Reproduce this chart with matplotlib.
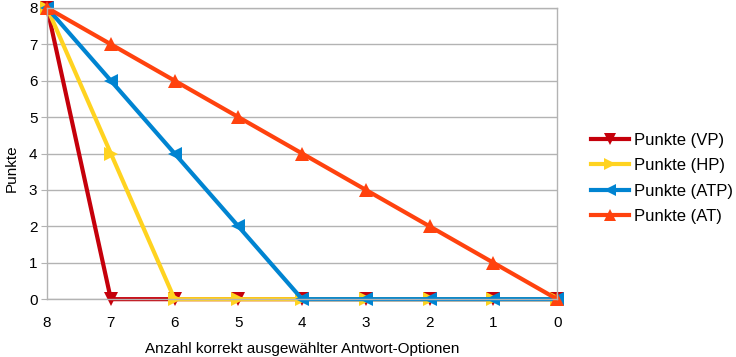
import matplotlib
matplotlib.use("Agg")
import matplotlib.pyplot as plt

plt.rcParams['font.family'] = ['Liberation Sans', 'DejaVu Sans']

# data
x_labels = ['8', '7', '6', '5', '4', '3', '2', '1', '0']
vp = [8, 0, 0, 0, 0, 0, 0, 0, 0]
hp = [8, 4, 0, 0, 0, 0, 0, 0, 0]
atp = [8, 6, 4, 2, 0, 0, 0, 0, 0]
at = [8, 7, 6, 5, 4, 3, 2, 1, 0]

series = [
    ('Punkte (VP)', vp, '#C5000B', 'v'),
    ('Punkte (HP)', hp, '#FFD320', '>'),
    ('Punkte (ATP)', atp, '#0084D1', '<'),
    ('Punkte (AT)', at, '#FF420E', '^'),
]

fig = plt.figure(figsize=(7.36, 3.57), dpi=100)
ax = fig.add_axes([0.064, 0.162, 0.693, 0.816])

pos = list(range(len(x_labels)))
handles = []
for name, vals, col, mk in series:
    h, = ax.plot(pos, vals, color=col, lw=3, marker=mk, markersize=10,
                 markeredgewidth=0, clip_on=False, label=name)
    handles.append(h)

ax.set_xlim(0, 8)
ax.set_ylim(0, 8)
ax.set_xticks(pos)
ax.set_xticklabels(x_labels)
ax.set_yticks(range(0, 9))
ax.yaxis.grid(True, color='#b3b3b3', lw=1)
ax.set_axisbelow(True)
for s in ax.spines.values():
    s.set_color('#b3b3b3')
    s.set_linewidth(1)
ax.tick_params(axis='y', length=4, color='#b3b3b3', labelsize=11, pad=3)
ax.tick_params(axis='x', length=0, labelsize=11, pad=12)
ax.set_xlabel('Anzahl korrekt ausgewählter Antwort-Optionen', fontsize=11, labelpad=9)
ax.set_ylabel('Punkte', fontsize=11)
ax.yaxis.set_label_coords(-0.055, 0.45)

fig.legend(handles=handles, loc='center left', bbox_to_anchor=(0.803, 0.5),
           frameon=False, fontsize=12, handlelength=2.3, handletextpad=0.3,
           labelspacing=0.62, borderpad=0, borderaxespad=0, markerscale=0.8)

fig.savefig('out.png', dpi=100)
